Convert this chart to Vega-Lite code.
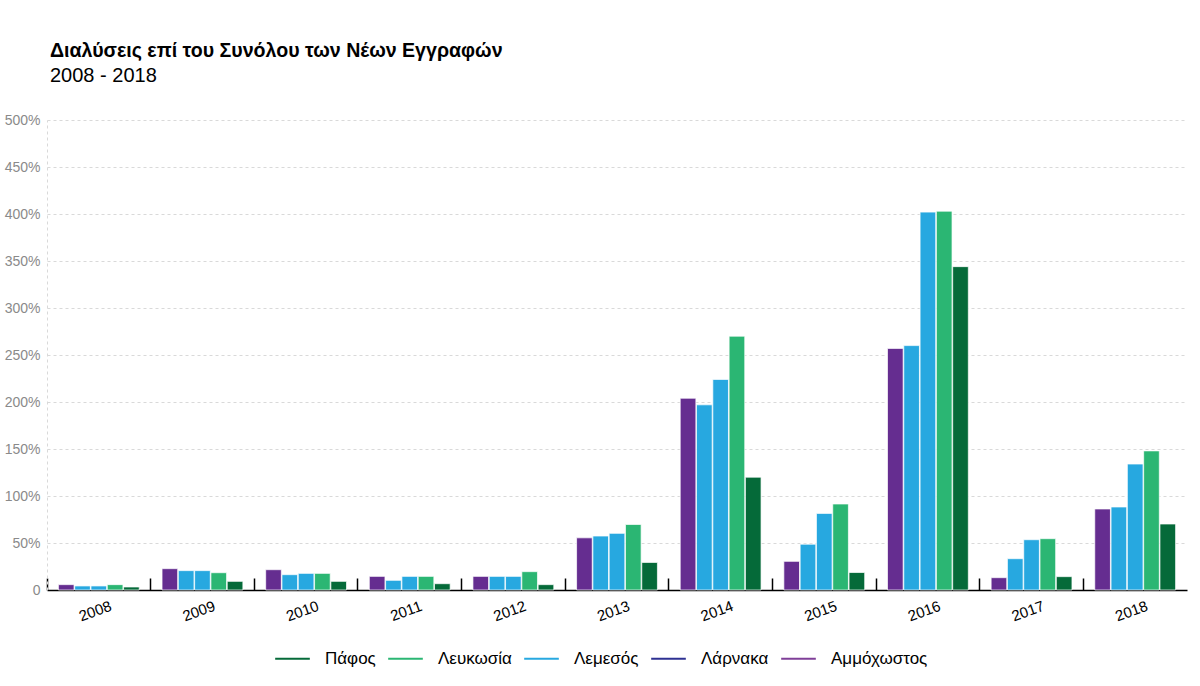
{
  "$schema": "https://vega.github.io/schema/vega-lite/v6.json",
  "width": 1140,
  "height": 470,
  "autosize": {"type": "none"},
  "padding": {"left": 47, "top": 120, "right": 13, "bottom": 96},
  "background": "white",
  "config": {
    "font": "Liberation Sans",
    "view": {"stroke": null}
  },
  "title": {
    "text": "Διαλύσεις επί του Συνόλου των Νέων Εγγραφών",
    "subtitle": "2008 - 2018",
    "anchor": "start",
    "frame": "group",
    "dx": 3,
    "font": "Liberation Sans",
    "fontSize": 19.6,
    "fontWeight": "bold",
    "color": "#000000",
    "subtitleFont": "Liberation Sans",
    "subtitleFontSize": 20,
    "subtitleColor": "#000000",
    "subtitlePadding": 4,
    "offset": 26
  },
  "data": {
    "values": [
      {"year": "2008", "city": "Αμμόχωστος", "value": 5.7},
      {"year": "2008", "city": "Λάρνακα", "value": 4.3},
      {"year": "2008", "city": "Λεμεσός", "value": 4.3},
      {"year": "2008", "city": "Λευκωσία", "value": 5.7},
      {"year": "2008", "city": "Πάφος", "value": 3.2},
      {"year": "2009", "city": "Αμμόχωστος", "value": 22.7},
      {"year": "2009", "city": "Λάρνακα", "value": 20.6},
      {"year": "2009", "city": "Λεμεσός", "value": 20.6},
      {"year": "2009", "city": "Λευκωσία", "value": 18.4},
      {"year": "2009", "city": "Πάφος", "value": 9.2},
      {"year": "2010", "city": "Αμμόχωστος", "value": 21.6},
      {"year": "2010", "city": "Λάρνακα", "value": 16.3},
      {"year": "2010", "city": "Λεμεσός", "value": 17.7},
      {"year": "2010", "city": "Λευκωσία", "value": 17.7},
      {"year": "2010", "city": "Πάφος", "value": 9.2},
      {"year": "2011", "city": "Αμμόχωστος", "value": 14.5},
      {"year": "2011", "city": "Λάρνακα", "value": 10.3},
      {"year": "2011", "city": "Λεμεσός", "value": 14.5},
      {"year": "2011", "city": "Λευκωσία", "value": 14.5},
      {"year": "2011", "city": "Πάφος", "value": 6.7},
      {"year": "2012", "city": "Αμμόχωστος", "value": 14.5},
      {"year": "2012", "city": "Λάρνακα", "value": 14.5},
      {"year": "2012", "city": "Λεμεσός", "value": 14.5},
      {"year": "2012", "city": "Λευκωσία", "value": 19.5},
      {"year": "2012", "city": "Πάφος", "value": 5.7},
      {"year": "2013", "city": "Αμμόχωστος", "value": 55.5},
      {"year": "2013", "city": "Λάρνακα", "value": 57.4},
      {"year": "2013", "city": "Λεμεσός", "value": 60.3},
      {"year": "2013", "city": "Λευκωσία", "value": 69.7},
      {"year": "2013", "city": "Πάφος", "value": 29.3},
      {"year": "2014", "city": "Αμμόχωστος", "value": 204},
      {"year": "2014", "city": "Λάρνακα", "value": 197},
      {"year": "2014", "city": "Λεμεσός", "value": 224},
      {"year": "2014", "city": "Λευκωσία", "value": 270},
      {"year": "2014", "city": "Πάφος", "value": 120},
      {"year": "2015", "city": "Αμμόχωστος", "value": 30.5},
      {"year": "2015", "city": "Λάρνακα", "value": 48.7},
      {"year": "2015", "city": "Λεμεσός", "value": 81.5},
      {"year": "2015", "city": "Λευκωσία", "value": 91.5},
      {"year": "2015", "city": "Πάφος", "value": 18.6},
      {"year": "2016", "city": "Αμμόχωστος", "value": 257},
      {"year": "2016", "city": "Λάρνακα", "value": 260},
      {"year": "2016", "city": "Λεμεσός", "value": 402},
      {"year": "2016", "city": "Λευκωσία", "value": 403},
      {"year": "2016", "city": "Πάφος", "value": 344},
      {"year": "2017", "city": "Αμμόχωστος", "value": 13.1},
      {"year": "2017", "city": "Λάρνακα", "value": 33.3},
      {"year": "2017", "city": "Λεμεσός", "value": 53.5},
      {"year": "2017", "city": "Λευκωσία", "value": 54.6},
      {"year": "2017", "city": "Πάφος", "value": 14.2},
      {"year": "2018", "city": "Αμμόχωστος", "value": 86.2},
      {"year": "2018", "city": "Λάρνακα", "value": 88.3},
      {"year": "2018", "city": "Λεμεσός", "value": 134},
      {"year": "2018", "city": "Λευκωσία", "value": 148},
      {"year": "2018", "city": "Πάφος", "value": 70.2}
    ]
  },
  "encoding": {
    "x": {
      "field": "year",
      "type": "nominal",
      "scale": {"paddingInner": 0.22, "paddingOuter": 0.11},
      "axis": {
        "title": null,
        "domainColor": "#000000",
        "domainWidth": 1.5,
        "tickColor": "#000000",
        "tickOpacity": 1,
        "tickWidth": 1.5,
        "tickSize": -12,
        "bandPosition": -0.141,
        "labelAngle": -20,
        "labelAlign": "center",
        "labelBaseline": "top",
        "labelPadding": 26,
        "labelOffset": -6,
        "labelColor": "#000000",
        "labelFontSize": 15,
        "labelFont": "Liberation Sans"
      }
    },
    "y": {
      "field": "value",
      "type": "quantitative",
      "scale": {"domain": [0, 500], "nice": false},
      "axis": {
        "title": null,
        "values": [0, 50, 100, 150, 200, 250, 300, 350, 400, 450, 500],
        "labelExpr": "datum.value == 0 ? '0' : datum.value + '%'",
        "ticks": false,
        "labelPadding": 7,
        "labelColor": "#8a8a8a",
        "labelFontSize": 14,
        "labelFont": "Liberation Sans",
        "grid": true,
        "gridColor": "#d9d9d9",
        "gridDash": [3, 3],
        "gridWidth": 1,
        "domainColor": "#d9d9d9",
        "domainDash": [3, 3],
        "domainWidth": 1
      }
    }
  },
  "layer": [
    {
      "mark": {"type": "bar", "stroke": "white", "strokeWidth": 1, "strokeOpacity": 0.7},
      "encoding": {
        "xOffset": {
          "field": "city",
          "type": "nominal",
          "sort": ["Αμμόχωστος", "Λάρνακα", "Λεμεσός", "Λευκωσία", "Πάφος"],
          "scale": {"paddingInner": 0.04}
        },
        "fill": {
          "field": "city",
          "type": "nominal",
          "scale": {
            "domain": ["Αμμόχωστος", "Λάρνακα", "Λεμεσός", "Λευκωσία", "Πάφος"],
            "range": ["#652d90", "#27a8e0", "#27a8e0", "#2bb673", "#056a39"]
          },
          "legend": null
        }
      }
    },
    {
      "mark": {"type": "line", "strokeOpacity": 0, "strokeWidth": 2},
      "encoding": {
        "stroke": {
          "field": "city",
          "type": "nominal",
          "scale": {
            "domain": ["Πάφος", "Λευκωσία", "Λεμεσός", "Λάρνακα", "Αμμόχωστος"],
            "range": ["#056a39", "#2bb673", "#27a8e0", "#2e3192", "#7f3f98"]
          },
          "legend": {
            "title": null,
            "orient": "none",
            "direction": "horizontal",
            "legendX": 227,
            "legendY": 520,
            "symbolType": "stroke",
            "symbolSize": 1200,
            "symbolStrokeWidth": 2,
            "symbolOpacity": 1,
            "labelFontSize": 17,
            "labelFont": "Liberation Sans",
            "labelColor": "#000000",
            "labelOffset": 14,
            "columnPadding": 8
          }
        }
      }
    }
  ]
}
